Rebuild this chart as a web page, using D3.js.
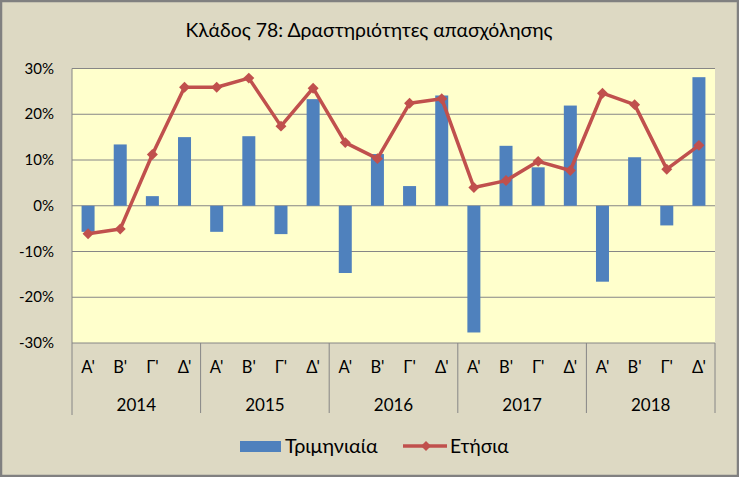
<!DOCTYPE html>
<html>
<head>
<meta charset="utf-8">
<script src="https://cdn.jsdelivr.net/npm/d3@7"></script>
<style>
  html, body { margin: 0; padding: 0; background: #ddd9c3; }
  svg { display: block; }
  text { font-family: Lato, "Open Sans", sans-serif; fill: #000; }
</style>
</head>
<body>
<svg id="chart" width="739" height="477"></svg>
<script>
const years = ["2014", "2015", "2016", "2017", "2018"];
const quarters = ["Α'", "Β'", "Γ'", "Δ'"];
const quarterly = [-5.7, 13.4, 2.1, 15.0, -5.7, 15.2, -6.2, 23.3, -14.7, 11.3, 4.3, 24.1, -27.7, 13.1, 8.4, 21.9, -16.6, 10.6, -4.3, 28.1];
const annual = [-6.1, -5.1, 11.2, 25.9, 25.9, 27.9, 17.4, 25.7, 13.8, 10.3, 22.4, 23.4, 4.0, 5.5, 9.7, 7.7, 24.6, 22.1, 8.0, 13.2];
const yTicks = [-30, -20, -10, 0, 10, 20, 30];
const seriesNames = ["Τριμηνιαία", "Ετήσια"];
const title = "Κλάδος 78: Δραστηριότητες απασχόλησης";

const W = 739, H = 477;
const svg = d3.select("#chart");
const plot = { left: 72, right: 715, top: 68.5, bottom: 343 };

// background + border
svg.append("rect").attr("x", 1).attr("y", 1).attr("width", W - 2).attr("height", H - 2)
  .attr("fill", "#ddd9c3").attr("stroke", "#808080").attr("stroke-width", 2.5);

svg.append("text").attr("x", 369).attr("y", 37).attr("text-anchor", "middle")
  .style("font-size", "19.4px").text(title);

const cats = [];
years.forEach(y => quarters.forEach(q => cats.push(y + "|" + q)));

const xc = d3.scaleBand().domain(cats).range([plot.left, plot.right]);
const y = d3.scaleLinear().domain([-30, 30]).range([plot.bottom, plot.top]);

svg.append("rect").attr("x", plot.left).attr("y", plot.top)
  .attr("width", plot.right - plot.left).attr("height", plot.bottom - plot.top)
  .attr("fill", "#ffffcc");

// gridlines
svg.append("g").selectAll("line").data(yTicks).join("line")
  .attr("x1", plot.left).attr("x2", plot.right)
  .attr("y1", d => y(d)).attr("y2", d => y(d))
  .attr("stroke", "#868686").attr("stroke-width", 1);

// y labels
svg.append("g").selectAll("text").data(yTicks).join("text")
  .attr("x", 54).attr("y", d => y(d) + 5).attr("text-anchor", "end")
  .style("font-size", "15px").text(d => d + "%");

// bars
svg.append("g").selectAll("rect").data(quarterly).join("rect")
  .attr("x", (d, i) => xc(cats[i]) + xc.bandwidth() / 2 - 6.5)
  .attr("width", 13)
  .attr("y", d => y(Math.max(0, d)))
  .attr("height", d => Math.abs(y(d) - y(0)))
  .attr("fill", "#4f81bd");

// line
const cx = i => xc(cats[i]) + xc.bandwidth() / 2;
svg.append("path").datum(annual)
  .attr("d", d3.line().x((d, i) => cx(i)).y(d => y(d)))
  .attr("fill", "none").attr("stroke", "#c0504d").attr("stroke-width", 3.5)
  .attr("stroke-linejoin", "round");
svg.append("g").selectAll("path").data(annual).join("path")
  .attr("d", d3.symbol().type(d3.symbolSquare).size(60)())
  .attr("transform", (d, i) => `translate(${cx(i)},${y(d)}) rotate(45)`)
  .attr("fill", "#c0504d");

// x axis lines
const axisG = svg.append("g");
axisG.append("line").attr("x1", plot.left).attr("x2", plot.left)
  .attr("y1", plot.top).attr("y2", 415).attr("stroke", "#868686");
years.forEach((yr, k) => {
  const xe = xc(yr + "|" + quarters[3]) + xc.bandwidth();
  axisG.append("line").attr("x1", xe).attr("x2", xe)
    .attr("y1", plot.bottom).attr("y2", 413).attr("stroke", "#868686");
  const xs = xc(yr + "|" + quarters[0]);
  axisG.append("text").attr("x", (xs + xe) / 2).attr("y", 411)
    .attr("text-anchor", "middle").style("font-size", "17px").text(yr);
});
axisG.selectAll("text.q").data(cats).join("text").attr("class", "q")
  .attr("x", d => xc(d) + xc.bandwidth() / 2).attr("y", 373)
  .attr("text-anchor", "middle").style("font-size", "16.5px")
  .text(d => d.split("|")[1]);

// legend
const lg = svg.append("g");
lg.append("rect").attr("x", 240).attr("y", 441).attr("width", 41).attr("height", 11).attr("fill", "#4f81bd");
lg.append("text").attr("x", 285).attr("y", 453).style("font-size", "19.8px").text(seriesNames[0]);
lg.append("line").attr("x1", 403).attr("x2", 447).attr("y1", 446).attr("y2", 446)
  .attr("stroke", "#c0504d").attr("stroke-width", 3.5);
lg.append("path").attr("d", d3.symbol().type(d3.symbolSquare).size(50)())
  .attr("transform", "translate(426,446) rotate(45)").attr("fill", "#c0504d");
lg.append("text").attr("x", 450).attr("y", 453).style("font-size", "19.2px").text(seriesNames[1]);
</script>
</body>
</html>
